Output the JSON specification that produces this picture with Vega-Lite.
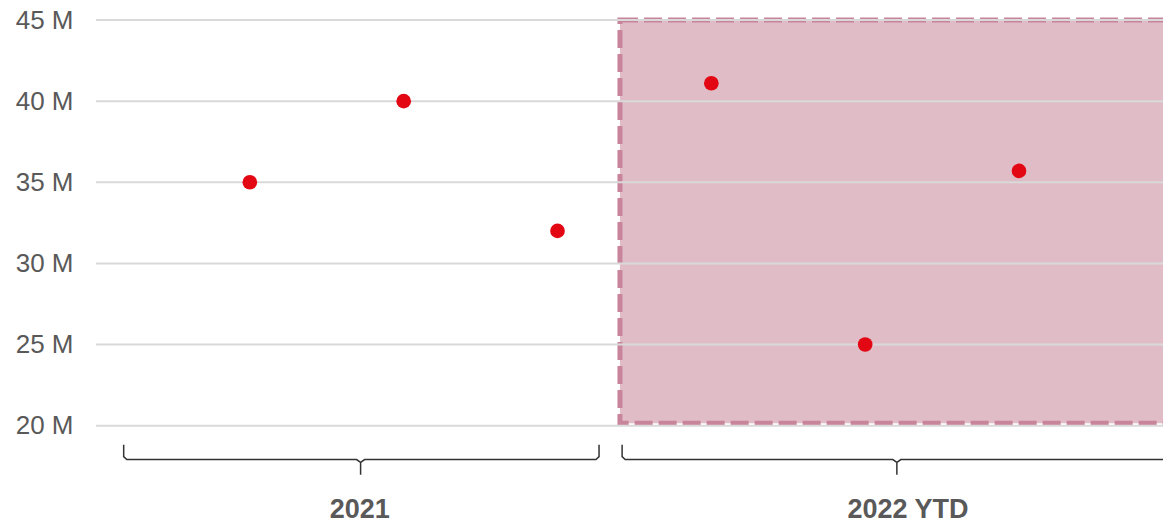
{
  "$schema": "https://vega.github.io/schema/vega-lite/v6.json",
  "width": 1067,
  "height": 503,
  "autosize": {"type": "none"},
  "padding": {"left": 96, "top": 20, "right": 0, "bottom": 0},
  "background": "white",
  "config": {"view": {"stroke": null}},
  "datasets": {
    "points": [
      {"period": "2021", "i": 1, "value": 35},
      {"period": "2021", "i": 2, "value": 40},
      {"period": "2021", "i": 3, "value": 32},
      {"period": "2022 YTD", "i": 4, "value": 41.1},
      {"period": "2022 YTD", "i": 5, "value": 25},
      {"period": "2022 YTD", "i": 6, "value": 35.7}
    ],
    "grid": [
      {"value": 20}, {"value": 25}, {"value": 30}, {"value": 35}, {"value": 40}, {"value": 45}
    ],
    "highlight": [
      {"x": 3.406, "x2": 6.96, "value": 45, "value2": 20.15}
    ],
    "brackets": [
      {"b": "2021", "o": 1, "x": 0.18, "value": 18.83},
      {"b": "2021", "o": 2, "x": 0.18, "value": 18.09},
      {"b": "2021", "o": 3, "x": 0.2, "value": 17.91},
      {"b": "2021", "o": 4, "x": 1.694, "value": 17.91},
      {"b": "2021", "o": 5, "x": 1.72, "value": 17.73},
      {"b": "2021", "o": 6, "x": 1.72, "value": 16.98},
      {"b": "2021", "o": 7, "x": 1.72, "value": 17.73},
      {"b": "2021", "o": 8, "x": 1.746, "value": 17.91},
      {"b": "2021", "o": 9, "x": 3.25, "value": 17.91},
      {"b": "2021", "o": 10, "x": 3.27, "value": 18.09},
      {"b": "2021", "o": 11, "x": 3.27, "value": 18.83},
      {"b": "2022", "o": 1, "x": 3.42, "value": 18.83},
      {"b": "2022", "o": 2, "x": 3.42, "value": 18.09},
      {"b": "2022", "o": 3, "x": 3.44, "value": 17.91},
      {"b": "2022", "o": 4, "x": 5.18, "value": 17.91},
      {"b": "2022", "o": 5, "x": 5.206, "value": 17.73},
      {"b": "2022", "o": 6, "x": 5.206, "value": 16.98},
      {"b": "2022", "o": 7, "x": 5.206, "value": 17.73},
      {"b": "2022", "o": 8, "x": 5.232, "value": 17.91},
      {"b": "2022", "o": 9, "x": 7.3, "value": 17.91}
    ],
    "labels": [
      {"label": "2021", "x": 1.715, "value": 14.83},
      {"label": "2022 YTD", "x": 5.278, "value": 14.83}
    ]
  },
  "encoding": {
    "y": {
      "field": "value",
      "type": "quantitative",
      "scale": {"domain": [14, 45], "nice": false, "zero": false},
      "axis": {
        "values": [20, 25, 30, 35, 40, 45],
        "grid": false,
        "domain": false,
        "ticks": false,
        "title": null,
        "labelExpr": "datum.value + ' M'",
        "labelFont": "Liberation Sans",
        "labelFontSize": 26,
        "labelColor": "#595959",
        "labelPadding": 23
      }
    }
  },
  "layer": [
    {
      "data": {"name": "highlight"},
      "mark": {"type": "rect", "fill": "#dfbcc6", "stroke": "#c8849b", "strokeWidth": 5, "strokeDash": [18, 6]},
      "encoding": {
        "x": {"field": "x", "type": "quantitative", "scale": {"domain": [0, 6.936], "nice": false, "zero": false}, "axis": null},
        "x2": {"field": "x2"},
        "y2": {"field": "value2"}
      }
    },
    {
      "data": {"name": "grid"},
      "mark": {"type": "rule", "color": "#d9d9d9", "strokeWidth": 2},
      "encoding": {}
    },
    {
      "data": {"name": "brackets"},
      "mark": {"type": "line", "clip": true, "color": "#333333", "strokeWidth": 1.5},
      "encoding": {
        "x": {"field": "x", "type": "quantitative", "axis": null},
        "detail": {"field": "b"},
        "order": {"field": "o", "type": "quantitative"}
      }
    },
    {
      "data": {"name": "points"},
      "mark": {"type": "point", "filled": true, "opacity": 1, "size": 215, "color": "#e30613"},
      "encoding": {
        "x": {"field": "i", "type": "quantitative", "axis": null}
      }
    },
    {
      "data": {"name": "labels"},
      "mark": {"type": "text", "font": "Liberation Sans", "fontSize": 27, "fontWeight": "bold", "color": "#595959", "align": "center", "baseline": "middle"},
      "encoding": {
        "x": {"field": "x", "type": "quantitative", "axis": null},
        "text": {"field": "label"}
      }
    }
  ]
}
